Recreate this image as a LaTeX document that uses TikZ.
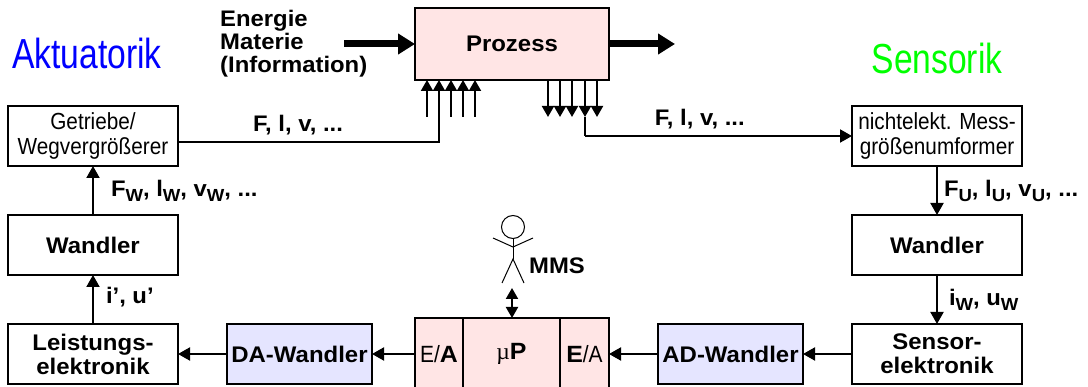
\documentclass[tikz,border=0pt]{standalone}
\usepackage{fontspec}
\setmainfont{Liberation Sans}[FakeStretch=.89,BoldFeatures={FakeStretch=1.06}]
\newfontfamily\symfont{Liberation Serif}
\usetikzlibrary{positioning}
\usetikzlibrary{arrows.meta}
\definecolor{boxred}{HTML}{ffe5e5}
\definecolor{boxblue}{HTML}{e5e5ff}
\definecolor{aktblue}{HTML}{0000ff}
\definecolor{sensgreen}{HTML}{00ff00}
\newcommand{\idx}[1]{\raisebox{-5pt}{\fontsize{17.5}{17.5}\selectfont #1}}
\newcommand{\schmal}[1]{\scalebox{.9}[1]{#1}}
\tikzset {
  x=1pt, y=-1pt,
  node distance={49pt},
  % blocks
  main/.style = {draw, line width=2pt, outer sep=0pt, inner sep=0pt, align=center, minimum width=170pt, minimum height=60pt, font=\fontsize{22.6}{24}\selectfont\bfseries},
  thin main/.style = {main, font=\fontsize{23.3}{25}\selectfont},
  conv/.style = {main, fill=boxblue, minimum width=145pt},
  proc/.style = {main, fill=boxred, minimum height=72pt},
  plain proc/.style = {proc, font=\fontsize{23.5}{24}\selectfont},
  % arrows
  flow/.style = {line width=2pt, -{Triangle[length=12pt,width=13pt]}},
  small/.style = {line width=2pt, -{Triangle[length=11pt,width=12pt]}},
  heavy/.style = {line width=7pt, -{Triangle[length=17pt,width=20pt]}},
  lbl/.style = {font=\fontsize{22.5}{24}\selectfont\bfseries, inner sep=0pt},
  title/.style = {font=\fontsize{42}{44}\selectfont, inner sep=0pt},
}
\begin{document}
\begin{tikzpicture}
      \useasboundingbox (0,0) rectangle (1088,387);

      \node[proc, minimum width=194pt] (prozess) at (512,44) {Prozess};
      \node[thin main] (getriebe) at (93,136) {Getriebe/\\Wegvergrößerer};
      \node[main] (wandlerl) [below=of getriebe] {Wandler};
      \node[main] (leistung) [below=of wandlerl] {Leistungs-\\elektronik};
      \node[conv] (da) [right=of leistung] {DA-Wandler};
      \node[plain proc, minimum width=48pt] (eal) [right=43pt of da] {E/\textbf{A}};
      \node[plain proc, minimum width=97pt] (mup) [right=0pt of eal] {{\symfont µ}\textbf{P}};
      \node[plain proc, minimum width=49pt] (ear) [right=0pt of mup] {\textbf{E}/A};
      \node[conv] (ad) [right=of ear] {AD-Wandler};
      \node[main] (sensor) [right=of ad] {Sensor-\\elektronik};
      \node[main] (wandlerr) [above=of sensor] {Wandler};
      \node[thin main] (mess) [above=of wandlerr] {nichtelekt. Mess-\\größenumformer};

      % titles and inputs
      \node[title, text=aktblue] (akt) at (87,53) {\schmal{Aktuatorik}};
      \node[title, text=sensgreen] (sens) at (937,58) {\schmal{Sensorik}};
      \node[lbl, align=left, anchor=west, font=\fontsize{22.5}{23}\selectfont\bfseries] (energie) at (220,44) {Energie\\Materie\\(Information)};

      % heavy arrows
      \coordinate (ein) at (344,44);
      \coordinate (aus) at (675,44);
      \draw[heavy] (ein) -- (prozess);
      \draw[heavy] (prozess) -- (aus);

      % actuator and sensor lines
      \foreach \i/\x in {1/427,2/439,3/451,4/463,5/475} {
        \coordinate (auf\i) at (\x,117);
        \draw[small] (auf\i) -- (prozess.south -| auf\i);
      }
      \foreach \i/\x in {1/548,2/560,3/572,4/585,5/597} {
        \coordinate (ab\i) at (\x,117);
        \draw[small] (prozess.south -| ab\i) -- (ab\i);
      }
      \coordinate (ausl) at ([yshift=-6pt]getriebe.east);
      \coordinate (knick) at (585,136);
      \draw[line width=2pt] (ausl) -- node[lbl, above=6pt, pos=.46] {F, l, v, ...} (ausl -| auf2) -- (auf2);
      \draw[line width=2pt] (ab4) -- (knick);
      \draw[flow] (knick) -- node[lbl, above=6pt, pos=.43] {F, l, v, ...} (mess.west |- knick);

      \draw[flow] (wandlerl) -- node[lbl, right=17pt, yshift=0pt, anchor=west] {F\idx{W}, l\idx{W}, v\idx{W}, ...} (getriebe);
      \draw[flow] (leistung) -- node[lbl, right=12pt, yshift=2pt, anchor=west] {i’, u’} (wandlerl);
      \draw[flow] (da) -- (leistung);
      \draw[flow] (eal) -- (da);
      \draw[flow] (ad) -- (ear);
      \draw[flow] (sensor) -- (ad);
      \draw[flow] (mess) -- node[lbl, right=6pt, anchor=west] {F\idx{U}, l\idx{U}, v\idx{U}, ...} (wandlerr);
      \draw[flow] (wandlerr) -- node[lbl, right=11pt, anchor=west] {i\idx{W}, u\idx{W}} (sensor);

      % operator
      \node[draw, circle, minimum size=23pt, inner sep=0pt, line width=1pt] (kopf) at (513,227) {};
      \coordinate (huefte) at (513,259);
      \coordinate (schulter) at (513,247);
      \coordinate (handl) at (493,238);
      \coordinate (handr) at (533,238);
      \coordinate (fussl) at (502,283);
      \coordinate (fussr) at (524,283);
      \draw[line width=1pt] (kopf) -- (huefte);
      \draw[line width=1pt] (handl) -- (schulter) -- (handr);
      \draw[line width=1pt] (fussl) -- (huefte) -- (fussr);
      \node[lbl] (mms) at (557,266) {MMS};
      \coordinate (mmsfuss) at (512,288);
      \draw[line width=2pt, {Triangle[length=11pt,width=12pt]}-{Triangle[length=11pt,width=12pt]}] (mmsfuss) -- (mup.north -| mmsfuss);
    \end{tikzpicture}
\end{document}
